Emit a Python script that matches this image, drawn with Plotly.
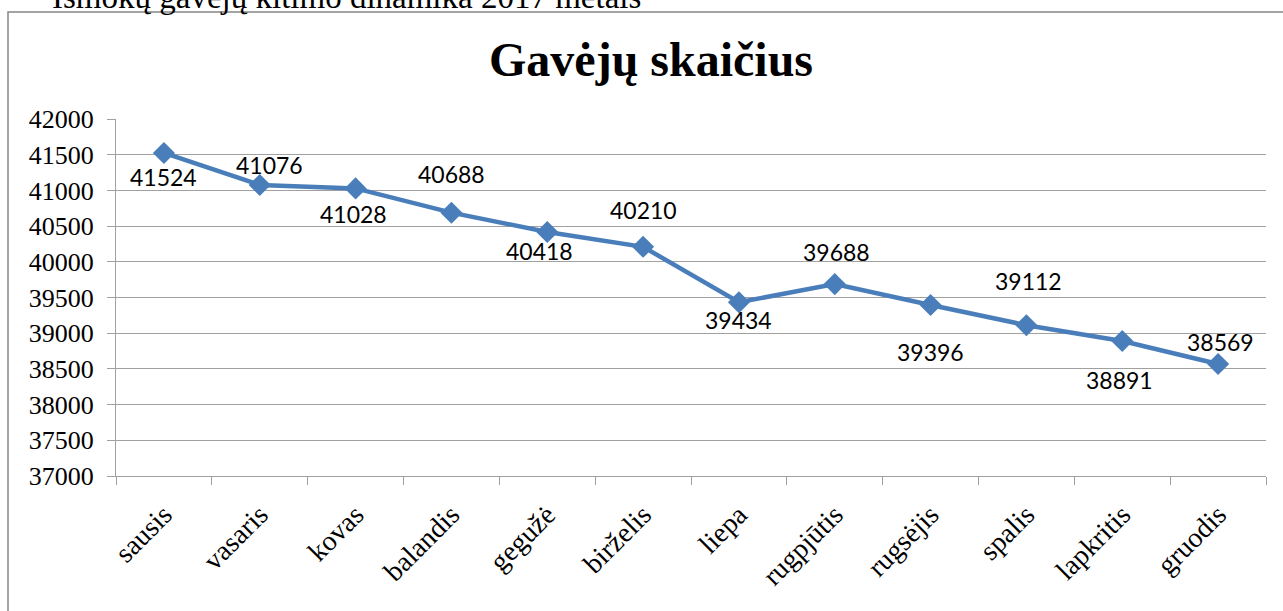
import plotly.graph_objects as go

months = ["sausis", "vasaris", "kovas", "balandis", "gegužė", "birželis",
          "liepa", "rugpjūtis", "rugsėjis", "spalis", "lapkritis", "gruodis"]
recipients = [41524, 41076, 41028, 40688, 40418, 40210,
              39434, 39688, 39396, 39112, 38891, 38569]
y_ticks = list(range(37000, 42001, 500))

# label offsets (pixels) relative to each point
label_dy = [-24, 20, -26, 39, -19, 37, -18, 32, -47, 44, -39, 22]
label_dx = [0, 10, -2, 0, -8, 0, 0, 2, 0, 2, -3, 2]

W, H = 1283, 611
L, R, T, B = 116, 17, 119, 135
pw, ph = W - L - R, H - T - B

def px_x(p):
    return (p - L) / pw

def px_y(p):
    return (H - B - p) / ph

LINE = "#4a7ebb"
GRID = "#a0a0a0"
SERIF = "Liberation Serif, serif"
SANS = "Lato"

fig = go.Figure()
fig.add_trace(go.Scatter(
    x=months, y=recipients, mode="lines+markers",
    line=dict(color=LINE, width=4.5),
    marker=dict(symbol="diamond", size=17, color=LINE),
    hoverinfo="x+y", showlegend=False,
))

annotations = []
for m, v, dy, dx in zip(months, recipients, label_dy, label_dx):
    annotations.append(dict(
        x=m, y=v, xref="x", yref="y", text=str(v), showarrow=False,
        yshift=dy, xshift=dx, font=dict(family=SANS, size=23, color="#000000"),
        xanchor="center", yanchor="middle",
    ))

annotations.append(dict(
    x=px_x(651), y=px_y(60), xref="paper", yref="paper",
    text="<b>Gavėjų skaičius</b>", showarrow=False,
    font=dict(family=SERIF, size=48, color="#000000"),
    xanchor="center", yanchor="middle",
))
annotations.append(dict(
    x=px_x(50), y=px_y(-3), xref="paper", yref="paper",
    text="Išmokų gavėjų kitimo dinamika 2017 metais", showarrow=False,
    font=dict(family=SERIF, size=33, color="#000000"),
    xanchor="left", yanchor="middle",
))

fig.update_layout(
    width=W, height=H,
    margin=dict(l=L, r=R, t=T, b=B),
    paper_bgcolor="white", plot_bgcolor="white",
    annotations=annotations,
    shapes=[dict(type="rect", xref="paper", yref="paper",
                 x0=px_x(8), x1=px_x(W + 20), y0=px_y(H + 20), y1=px_y(12),
                 line=dict(color="#868686", width=1.5), fillcolor="rgba(0,0,0,0)",
                 layer="below")],
    xaxis=dict(
        type="category", range=[-0.5, 11.5], tickson="boundaries",
        ticks="outside", ticklen=8, tickcolor=GRID, tickwidth=1.3,
        showline=True, linecolor=GRID, linewidth=1.3, showgrid=False,
        tickangle=-45, tickfont=dict(family=SERIF, size=28, color="#000000"),
        ticklabelstandoff=10, fixedrange=True,
    ),
    yaxis=dict(
        range=[37000, 42000], tickvals=y_ticks, ticktext=[str(t) for t in y_ticks],
        ticks="outside", ticklen=8, tickcolor=GRID, tickwidth=1.3,
        showline=True, linecolor=GRID, linewidth=1.3,
        showgrid=True, gridcolor=GRID, gridwidth=1.3, zeroline=False,
        tickfont=dict(family=SERIF, size=26, color="#000000"),
        ticklabelstandoff=8, fixedrange=True,
    ),
)

fig.write_html("out.html", config={"displayModeBar": False},
               post_script="document.body.style.margin='0px';")
